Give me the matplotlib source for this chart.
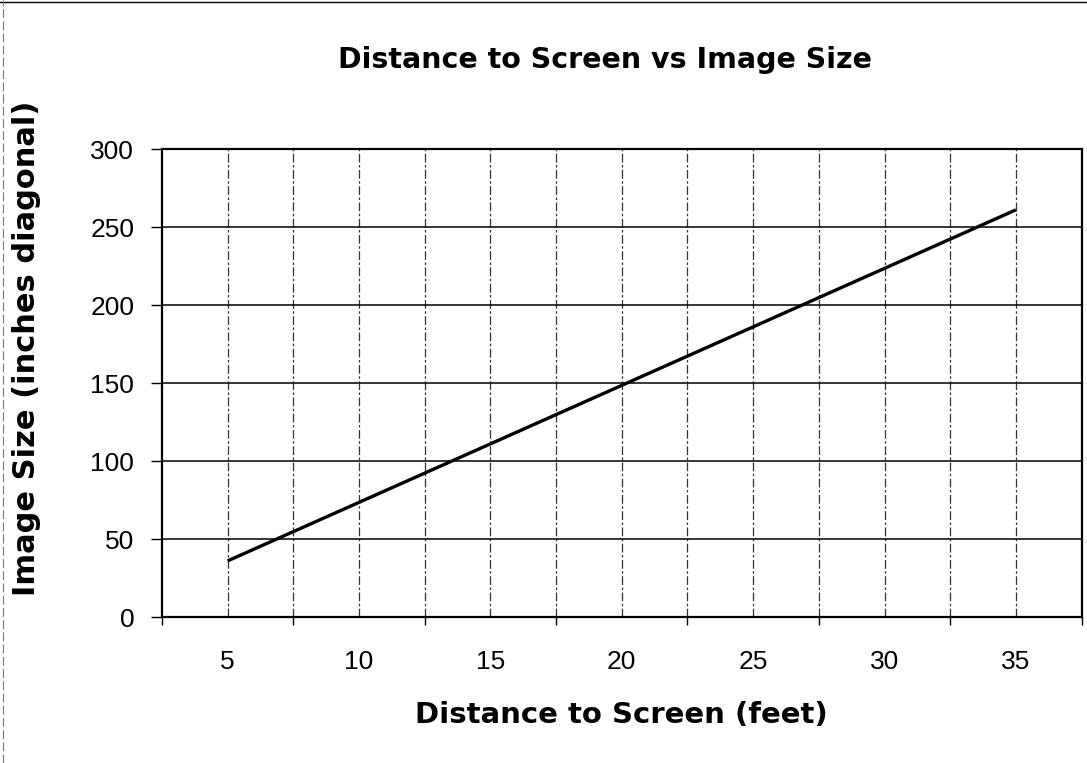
import matplotlib
matplotlib.use("Agg")
import matplotlib.pyplot as plt
import numpy as np

# distance (feet) vs image size (inches diagonal)
distance_ft = [5, 10, 15, 20, 25, 30, 35]
image_size = [36, 73.5, 111, 148.5, 186, 223.5, 261]
y_ticks = [0, 50, 100, 150, 200, 250, 300]

fig = plt.figure(figsize=(10.87, 7.63), dpi=100)
ax = fig.add_axes([0.149, 0.1913, 0.846, 0.6134])

ax.plot(distance_ft, image_size, color='black', linewidth=2.4, solid_capstyle='butt')

# Excel style category axis: ticks between categories, labels at centres
ax.set_xlim(2.5, 37.5)
ax.set_xticks(np.arange(2.5, 40, 5))
ax.set_xticklabels([])
ax.set_xticks(distance_ft, minor=True)
ax.set_xticklabels([str(d) for d in distance_ft], minor=True)
ax.tick_params(axis='x', which='major', direction='out', length=6, width=1)
ax.tick_params(axis='x', which='minor', length=0, pad=24, labelsize=19)

ax.set_ylim(0, 300)
ax.set_yticks(y_ticks)
ax.tick_params(axis='y', direction='out', length=8, width=1, pad=12, labelsize=19)

for lbl in ax.get_xticklabels(minor=True) + ax.get_yticklabels():
    lbl.set_family('Liberation Sans')

for x in np.arange(5, 37.5, 2.5):
    ax.axvline(x, color='#333333', linewidth=0.9, linestyle=(0, (7, 2, 2, 2)), zorder=0)
for y in y_ticks[1:-1]:
    ax.axhline(y, color='black', linewidth=1.1, zorder=0)

for s in ax.spines.values():
    s.set_linewidth(1.6)

fig.text(0.557, 0.921, 'Distance to Screen vs Image Size', ha='center', va='center',
         fontsize=20.5, fontweight='bold', family='DejaVu Sans')
fig.text(0.572, 0.063, 'Distance to Screen (feet)', ha='center', va='center',
         fontsize=21, fontweight='bold', family='DejaVu Sans')
fig.text(0.024, 0.544, 'Image Size (inches diagonal)', ha='center', va='center',
         rotation=90, fontsize=22, fontweight='bold', family='DejaVu Sans')

# scanned chart frame (top and left edges)
fig.add_artist(plt.Line2D([0, 1], [0.998, 0.998], transform=fig.transFigure,
                          color='black', linewidth=1))
fig.add_artist(plt.Line2D([0.003, 0.003], [0, 1], transform=fig.transFigure,
                          color='#777777', linewidth=0.8, linestyle=(0, (8, 3))))

fig.savefig('out.png', dpi=100)
